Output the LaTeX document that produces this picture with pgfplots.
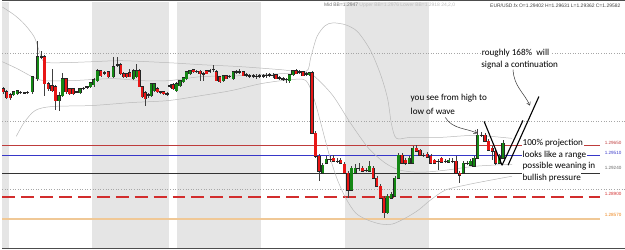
\documentclass[border=0pt]{standalone}
\usepackage{fontspec}
\setmainfont{Carlito}
\newfontfamily\tinyfont{Liberation Sans}
\usepackage{pgfplots}
\pgfplotsset{compat=1.18}
\usepackage{pgfplotstable}
\usetikzlibrary{arrows.meta}
\definecolor{bandgray}{RGB}{229,229,229}
\definecolor{bull}{RGB}{20,135,20}
\definecolor{bear}{RGB}{232,22,22}
\definecolor{lvlred}{RGB}{190,60,60}
\definecolor{lvlblue}{RGB}{55,55,200}
\definecolor{lvlorange}{RGB}{240,200,150}
\definecolor{dashred}{RGB}{210,45,45}
\definecolor{bbgray}{RGB}{185,185,185}

% candles in screen pixels (y down): x open high low close
\pgfplotstableread{
x o h l c
11.5 96 92 97 93
15 95 91 96 92
30 93 77 95 78
35.5 80 42 82 58
57 102 93 112 97
60.5 97 74 98 80
78 94 89 95 90
88.5 88 83 89 84
92 86 79 88 81
95.5 82 70 83 72
111.5 78 58 79 68
132 80 70 81 72
135 78 65 79 72
149.5 97 84 98 85
152.5 92 84 93 85
175 92 83 93 85
178.5 87 81 88 82
182 83 78 84 79
185 80 72 81 73
188.5 75 71 76 72
222 82 76 83 77
232 80 72 81 73
288.5 82 75 84 76
292 76 71 77 72
308.5 76 73 77 74
321.9 175 165 176 167
325.5 165 158 166 161
350.8 192 168 193 170
354.4 175 166 176 170
368.9 173 163 174 168
387.0 215 196 216 198
390.6 200 194 201 196
394.3 198 178 199 180
397.9 180 155 181 157
408.7 165 158 166 160
412.4 165 148 166 150
448.6 164 160 165 162
463.0 175 163 176 165
470.3 167 161 168 163
473.9 168 158 169 160
477.5 160 131 161 137
499.2 165 156 166 158
502.9 160 142 161 145
}\bullT
\pgfplotstableread{
x o h l c
1 90 88 95 93
4.5 93 91 100 99
8 96 94 101 99
42.5 58 56 97 85
46 85 83 92 90
50 87 70 93 92
53.5 88 86 111 102
64 80 79 95 93
67.5 90 89 96 95
71 90 89 96 95
99 72 71 78 77
106.5 73 72 79 78
119 66 64 76 75
122 75 73 79 78
125 75 74 79 78
128 74 70 78 78
137.5 72 70 88 88
140.5 88 87 99 98
143.5 94 92 107 100
156 90 88 94 93
162 93 92 96 95
171.5 86 84 91 90
192 71 70 74 73
198.5 72.5 71 82 75
205 72 71 75 75
215 73 71 82 82
218.5 78 77 84 83
225 77 76 80 80
242 73 72 77 77
275 76 75 80 80
295 72 70 75 75
302 73 72 77 77
311.0 74 72 136 135
314.6 135 133 160 158
318.2 158 156 183 173
332.7 160 157 164 163
340.0 162 160 166 165
343.6 166 164 176 175
347.2 175 173 200 192
361.7 170 168 174 173
372.5 170 168 181 180
376.2 180 178 189 188
379.8 188 186 201 200
383.4 200 198 220 215
401.5 157 155 166 165
405.1 162 160 167 165
416.0 150 147 154 153
419.6 152 151 158 157
426.8 156 154 160 159
430.5 158 156 166 165
434.1 162 161 166 165
441.3 160 159 165 164
455.8 163 158 176 175
459.4 175 173 185 177
484.8 137 135 144 143
488.4 143 141 153 152
492.0 150 148 162 153
495.6 153 152 167 165
}\bearT
\pgfplotstableread{
x o h l c
18.5 93.5 92 95 93.5
22 94 93 95 94
25.5 93.5 92 95 93.5
39 58 52 60 58
74.5 93 92 94 93
81.5 89.5 88.5 91 89.5
85 88 87 90 88
102.5 74 72 76 74
115.5 66 58 68 66
146.5 96 94 99 96
159 93 92 95 93
165.5 95 93 97 95
168.5 87 85 89 87
195 72.5 71 74 72.5
202 75 73 82 75
208.5 72 70 74 72
212 70.5 66 73 70.5
228.5 77.5 76 79 77.5
235 73 71 75 73
238.5 73 70 75 73
245 76 74 78 76
248.5 77 75 79 77
252 77 75 79 77
255 77.5 75 80 77.5
258.5 77 75 79 77
262 77 75 79 77
265 76.5 74 79 76.5
268.5 76 74 78 76
272 76.5 74 79 76.5
278.5 79 77 81 79
282 80 78 82 80
285 80.5 79 84 80.5
298.5 73 71 75 73
305 75 73 77 75
329.1 161 158 164 161
336.3 163 160 165 163
358.1 170 165 173 170
365.3 172 170 174 172
423.2 157 155 159 157
437.7 163 161 172 163
444.9 163 161 165 163
452.2 163 160 165 163
466.7 165 163 167 165
481.1 137 134 139 137
}\dojiT

\pgfplotsset{
  cwick/.style={draw=none, forget plot, error bars/.cd, y dir=both, y explicit, error mark=none,
    error bar style={draw=black!75, line width=0.6bp}},
  cbody/.style 2 args={draw=none, forget plot, error bars/.cd, y dir=both, y explicit, error mark=none,
    error bar style={draw=#1, line width=#2}},
}

\begin{document}
\begin{tikzpicture}
\begin{axis}[width=625bp, height=252bp, scale only axis, xmin=0, xmax=625, ymin=0, ymax=252,
  y dir=reverse, hide axis, clip=false]
% session bands
\addplot[fill=bandgray, draw=none] coordinates {(0,3)(7,3)(7,250.5)(0,250.5)} -- cycle;
\addplot[fill=bandgray, draw=none] coordinates {(90,3)(167,3)(167,250.5)(90,250.5)} -- cycle;
\addplot[fill=bandgray, draw=none] coordinates {(175,3)(260,3)(260,250.5)(175,250.5)} -- cycle;
\addplot[fill=bandgray, draw=none] coordinates {(344,3)(429,3)(429,250.5)(344,250.5)} -- cycle;
% grid dotted
\addplot[gray!70, dotted, line width=0.6bp] coordinates {(0,55)(625,55)};
\addplot[gray!70, dotted, line width=0.6bp] coordinates {(0,123)(625,123)};
\addplot[gray!70, dotted, line width=0.6bp] coordinates {(0,191)(625,191)};
% levels
\addplot[lvlred, line width=0.8bp] coordinates {(0,147)(600,147)};
\addplot[lvlblue, line width=0.8bp] coordinates {(0,157)(600,157)};
\addplot[black!80, line width=0.9bp] coordinates {(0,175)(600,175)};
\addplot[dashred, line width=1.6bp, dash pattern=on 13bp off 6bp] coordinates {(0,199)(600,199)};
\addplot[lvlorange, line width=1.3bp] coordinates {(0,221)(600,221)};
% borders
\addplot[black!70, line width=1bp] coordinates {(0,1.5)(625,1.5)};
\addplot[black!70, line width=1bp] coordinates {(0,251)(625,251)};
% Bollinger bands
\addplot[bbgray, smooth, line width=0.5bp] coordinates {(0,8)(12,16)(22,25)(32,38)(37,52)(42,63)(60,64)(90,63)(120,62)(167,64)(200,66)(240,68)(280,71)(305,73)(310,58)(316,38)(324,27)(332,24)(345,26)(357,33)(370,52)(380,76)(387,100)(391,126)(396,140)(410,139)(440,139)(475,137)(512,140)};
\addplot[bbgray, smooth, line width=0.5bp] coordinates {(0,63)(15,70)(30,78)(42,82)(70,82)(110,80)(140,82)(167,82)(200,78)(240,77)(280,75)(306,74)(315,79)(332,97)(350,125)(368,150)(385,165)(400,172)(420,174)(445,172)(475,168)(512,166)};
\addplot[bbgray, smooth, line width=0.5bp] coordinates {(14,138)(22,124)(33,112)(50,108)(90,107)(130,104)(167,102)(200,97)(230,92)(260,85)(290,81)(305,82)(313,100)(320,125)(328,155)(336,180)(345,200)(355,215)(367,222)(380,226)(392,226)(405,220)(418,212)(430,202)(445,192)(465,187)(485,183)(512,178)};
% candles: wicks
\addplot[cwick] table[x=x, y expr={(\thisrow{h}+\thisrow{l})/2}, y error expr={(\thisrow{l}-\thisrow{h})/2}] {\bullT};
\addplot[cwick] table[x=x, y expr={(\thisrow{h}+\thisrow{l})/2}, y error expr={(\thisrow{l}-\thisrow{h})/2}] {\bearT};
\addplot[cwick] table[x=x, y expr={(\thisrow{h}+\thisrow{l})/2}, y error expr={(\thisrow{l}-\thisrow{h})/2}] {\dojiT};
% bodies
\addplot[cbody={black!85}{3.2bp}] table[x=x, y expr={(\thisrow{o}+\thisrow{c})/2}, y error expr={abs(\thisrow{o}-\thisrow{c})/2+0.4}] {\bullT};
\addplot[cbody={bull}{2.3bp}] table[x=x, y expr={(\thisrow{o}+\thisrow{c})/2}, y error expr={abs(\thisrow{o}-\thisrow{c})/2}] {\bullT};
\addplot[cbody={black!85}{3.2bp}] table[x=x, y expr={(\thisrow{o}+\thisrow{c})/2}, y error expr={abs(\thisrow{o}-\thisrow{c})/2+0.4}] {\bearT};
\addplot[cbody={bear}{2.3bp}] table[x=x, y expr={(\thisrow{o}+\thisrow{c})/2}, y error expr={abs(\thisrow{o}-\thisrow{c})/2}] {\bearT};
\addplot[cbody={black!85}{3.2bp}] table[x=x, y expr={\thisrow{o}}, y error expr={0.5}] {\dojiT};
% level labels
\node[font=\tinyfont\fontsize{4.6}{5}\selectfont, text=lvlred, anchor=east, inner sep=0pt] at (axis cs:622,144.5) {1.29650};
\node[font=\tinyfont\fontsize{4.6}{5}\selectfont, text=lvlblue, anchor=east, inner sep=0pt] at (axis cs:622,154.5) {1.29510};
\node[font=\tinyfont\fontsize{4.6}{5}\selectfont, text=black!60, anchor=east, inner sep=0pt] at (axis cs:622,169.5) {1.29240};
\node[font=\tinyfont\fontsize{4.6}{5}\selectfont, text=dashred, anchor=east, inner sep=0pt] at (axis cs:622,196) {1.28900};
\node[font=\tinyfont\fontsize{4.6}{5}\selectfont, text=orange!70!brown, anchor=east, inner sep=0pt] at (axis cs:622,217) {1.28570};
% header
\node[font=\tinyfont\fontsize{5}{6}\selectfont, anchor=west, inner sep=0pt] at (axis cs:323,6.5) {\textcolor{black!55}{Mid BB=1.2947} \textcolor{black!25}{Upper BB=1.2976 Lower BB=1.2918 24,2,0}};
\node[font=\tinyfont\fontsize{5}{6}\selectfont, text=black!75, anchor=east, inner sep=0pt] at (axis cs:621,6.5) {EUR/USD.fx O=1.29402 H=1.29631 L=1.29362 C=1.29582};
% annotations
\node[font=\fontsize{9.2}{10}\selectfont, fill=white, anchor=west, inner sep=0.5pt] at (axis cs:481,54) {roughly 168\%\ \ will};
\node[font=\fontsize{9.2}{10}\selectfont, anchor=west, inner sep=0pt] at (axis cs:481,66) {signal a continuation};
\node[font=\fontsize{9.2}{10}\selectfont, anchor=west, inner sep=0pt] at (axis cs:410,100) {you see from high to};
\node[font=\fontsize{9.2}{10}\selectfont, anchor=west, inner sep=0pt] at (axis cs:410,112.5) {low of wave};
\node[font=\fontsize{9.2}{10}\selectfont, fill=white, anchor=west, inner sep=0.5pt] at (axis cs:522,144.5) {100\% projection};
\node[font=\fontsize{9.2}{10}\selectfont, fill=white, anchor=west, inner sep=0.5pt] at (axis cs:522,156.5) {looks like a range};
\node[font=\fontsize{9.2}{10}\selectfont, fill=white, anchor=west, inner sep=0.5pt] at (axis cs:522,168) {possible weaning in};
\node[font=\fontsize{9.2}{10}\selectfont, fill=white, anchor=west, inner sep=0.5pt] at (axis cs:522,179.5) {bullish pressure};
% drawn annotation lines
\draw[black!80, line width=0.5bp, -{Straight Barb[length=3bp,width=4bp]}] (axis cs:513,71) .. controls (axis cs:514,88) and (axis cs:524,94) .. (axis cs:530,107);
\draw[black!80, line width=0.5bp, -{Straight Barb[length=3bp,width=4bp]}] (axis cs:445,119) .. controls (axis cs:452,131) and (axis cs:468,130) .. (axis cs:477,135);
\draw[black, line width=1.1bp] (axis cs:484,123) -- (axis cs:502,167);
\draw[black, line width=1.1bp] (axis cs:502,167) -- (axis cs:523,122);
\draw[black, line width=1.1bp] (axis cs:508,167) -- (axis cs:539,98);
\end{axis}
\end{tikzpicture}
\end{document}
